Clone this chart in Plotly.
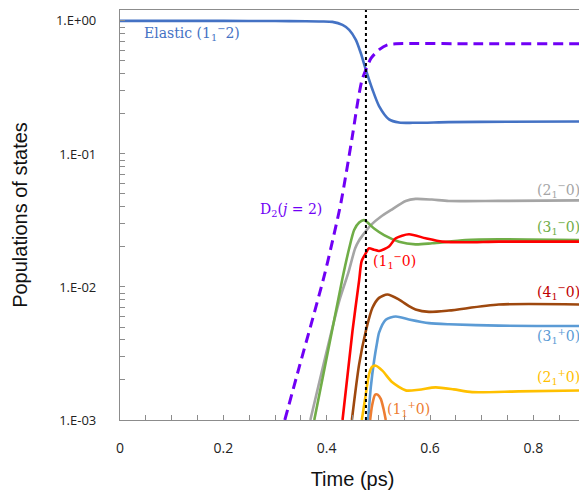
import numpy as np
import plotly.graph_objects as go

# ---------------- data ----------------
elastic_t = [0, 0.1, 0.2, 0.3, 0.36, 0.39, 0.411, 0.4306, 0.4436, 0.4565, 0.466, 0.4758,
             0.4886, 0.5014, 0.5207, 0.540, 0.572, 0.636, 0.75, 0.9]
elastic_v = [1.0, 1.0, 1.0, 0.998, 0.995, 0.991, 0.983, 0.933, 0.857, 0.721, 0.574, 0.43,
             0.305, 0.229, 0.182, 0.1725, 0.1714, 0.1734, 0.1745, 0.1754]

d2_t = [0.319, 0.347, 0.370, 0.395, 0.408, 0.4275, 0.450, 0.460, 0.468, 0.476, 0.486,
        0.5016, 0.5175, 0.534, 0.7, 0.9]
d2_v = [0.001, 0.00251, 0.00525, 0.0120, 0.0195, 0.0427, 0.138, 0.245, 0.355, 0.43, 0.525,
        0.608, 0.661, 0.673, 0.673, 0.673]

grey_t = [0.3684, 0.4244, 0.4417, 0.4552, 0.4629, 0.4725, 0.4854, 0.5047, 0.524, 0.553,
          0.5722, 0.6037, 0.6365, 0.733, 0.9]
grey_v = [0.001, 0.00787, 0.0127, 0.01954, 0.02244, 0.0253, 0.0292, 0.03373, 0.03776,
          0.04426, 0.04592, 0.04539, 0.04426, 0.04436, 0.04477]

green_t = [0.376, 0.4307, 0.4436, 0.4532, 0.4629, 0.4725, 0.4918, 0.5111, 0.540, 0.572,
           0.604, 0.6687, 0.733, 0.9]
green_v = [0.001, 0.01167, 0.01954, 0.0268, 0.0305, 0.0318, 0.0275, 0.0245, 0.0219, 0.0209,
           0.0213, 0.0225, 0.0228, 0.0225]

red_t = [0.4307, 0.450, 0.4629, 0.4677, 0.4758, 0.482, 0.4918, 0.5014, 0.5207, 0.5337,
         0.5593, 0.5915, 0.6235, 0.6687, 0.733, 0.9]
red_v = [0.001, 0.00467, 0.01127, 0.01563, 0.01795, 0.01954, 0.01905, 0.01866, 0.02014,
         0.02323, 0.02489, 0.02323, 0.02193, 0.02168, 0.02193, 0.02193]

brown_t = [0.4488, 0.4629, 0.4758, 0.4886, 0.5014, 0.5175, 0.540, 0.5593, 0.572, 0.598,
           0.6365, 0.733, 0.9]
brown_v = [0.001, 0.00263, 0.00467, 0.00697, 0.00828, 0.00877, 0.00804, 0.00718, 0.00678,
           0.0065, 0.00665, 0.00738, 0.00738]

blue_t = [0.4802, 0.4854, 0.4918, 0.4976, 0.5014, 0.5144, 0.5337, 0.5593, 0.598, 0.6365,
          0.733, 0.9]
blue_v = [0.001, 0.00176, 0.00279, 0.00382, 0.00454, 0.00568, 0.0060, 0.0057, 0.00535,
          0.00524, 0.00512, 0.00509]

yellow_t = [0.468, 0.4758, 0.4822, 0.488, 0.4951, 0.5078, 0.5271, 0.553, 0.5786, 0.6108,
            0.646, 0.6814, 0.7715, 0.9]
yellow_v = [0.001, 0.00157, 0.00222, 0.00251, 0.00256, 0.00235, 0.00192, 0.00167, 0.00169,
            0.00176, 0.0017, 0.00162, 0.00164, 0.00167]

orange_t = [0.4841, 0.488, 0.4937, 0.4986, 0.5047, 0.5101, 0.5144]
orange_v = [0.001, 0.00129, 0.00155, 0.00155, 0.00144, 0.00121, 0.001]

peak_time = 0.476

x_tickvals = [0, 0.2, 0.4, 0.6, 0.8]
x_ticktext = ["0", "0.2", "0.4", "0.6", "0.8"]
y_tickvals = [0.001, 0.01, 0.1, 1.0]
y_ticktext = ["1.E-03", "1.E-02", "1.E-01", "1.E+00"]

# ---------------- figure ----------------
fig = go.Figure()

series = [
    (elastic_t, elastic_v, "#4472C4", "solid", "Elastic"),
    (d2_t, d2_v, "#7000F5", "10px,6px", "D2"),
    (grey_t, grey_v, "#A5A5A5", "solid", "2-"),
    (green_t, green_v, "#70AD47", "solid", "3-"),
    (red_t, red_v, "#FF0000", "solid", "1-"),
    (brown_t, brown_v, "#9E480E", "solid", "4-"),
    (blue_t, blue_v, "#5B9BD5", "solid", "3+"),
    (yellow_t, yellow_v, "#FFC000", "solid", "2+"),
    (orange_t, orange_v, "#ED7D31", "solid", "1+"),
]
for t, v, col, dash, name in series:
    fig.add_trace(go.Scatter(
        x=t, y=v, mode="lines", name=name,
        line=dict(color=col, width=2.6 if dash == "solid" else 3, dash=dash,
                  shape="spline", smoothing=0.7),
        showlegend=False, hoverinfo="skip"))

fig.add_shape(type="line", xref="x", yref="paper", x0=peak_time, x1=peak_time,
              y0=0, y1=1, line=dict(color="black", width=2, dash="dot"))

lab_font = "DejaVu Serif"
labels = [
    ("Elastic (1<sub>1</sub><sup>−</sup>2)", 0.0430, 0.8136, "left", "#4472C4"),
    ("D<sub>2</sub>(<i>j</i> = 2)", 0.3317, 0.0378, "center", "#7000F5"),
    ("(2<sub>1</sub><sup>−</sup>0)", 0.894, 0.0539, "right", "#A5A5A5"),
    ("(3<sub>1</sub><sup>−</sup>0)", 0.894, 0.0284, "right", "#70AD47"),
    ("(1<sub>1</sub><sup>−</sup>0)", 0.486, 0.01563, "left", "#FF0000"),
    ("(4<sub>1</sub><sup>−</sup>0)", 0.894, 0.00918, "right", "#C00000"),
    ("(3<sub>1</sub><sup>+</sup>0)", 0.894, 0.00428, "right", "#5B9BD5"),
    ("(2<sub>1</sub><sup>+</sup>0)", 0.894, 0.00209, "right", "#FFC000"),
    ("(1<sub>1</sub><sup>+</sup>0)", 0.513, 0.00122, "left", "#ED7D31"),
]
for txt, lx, ly, anc, col in labels:
    fig.add_annotation(x=lx, y=np.log10(ly), xref="x", yref="y", text=txt,
                       showarrow=False, xanchor=anc, yanchor="middle",
                       font=dict(family=lab_font, size=14, color=col))

axis_col = "#8C8C8C"
# the page body adds an 8px offset, so the figure is shifted with smaller margins
fig.update_layout(
    width=579, height=482,
    margin=dict(l=112, r=1, t=2, b=67),
    paper_bgcolor="white", plot_bgcolor="white",
    xaxis=dict(
        range=[0, 0.9], tickmode="array", tickvals=x_tickvals, ticktext=x_ticktext,
        ticks="inside", ticklen=5, tickcolor=axis_col, showgrid=False, zeroline=False,
        showline=True, linecolor=axis_col, linewidth=1.3, mirror=True,
        tickfont=dict(family="Open Sans", size=14, color="#222"),
        ticklabelstandoff=15,
        minor=dict(tickmode="linear", tick0=0, dtick=0.05, ticks="inside", ticklen=5,
                   tickcolor=axis_col, showgrid=False),
        title=dict(text="Time (ps)", font=dict(family="Liberation Sans", size=20, color="#111"),
                   standoff=18),
    ),
    yaxis=dict(
        type="log", range=[-3, 0.082], tickmode="array", tickvals=y_tickvals,
        ticktext=y_ticktext, ticks="inside", ticklen=5, tickcolor=axis_col,
        showgrid=False, zeroline=False, showline=True, linecolor=axis_col, linewidth=1.3,
        mirror=True, tickfont=dict(family="Open Sans", size=13, color="#222"),
        ticklabelstandoff=20,
        minor=dict(tickmode="array",
                   tickvals=[k * 10.0 ** e for e in (-3, -2, -1) for k in range(2, 10)],
                   ticks="inside", ticklen=5, tickcolor=axis_col, showgrid=False),
        title=dict(text="Populations of states",
                   font=dict(family="Liberation Sans", size=20, color="#111"), standoff=22),
    ),
)

fig.write_html("out.html")
